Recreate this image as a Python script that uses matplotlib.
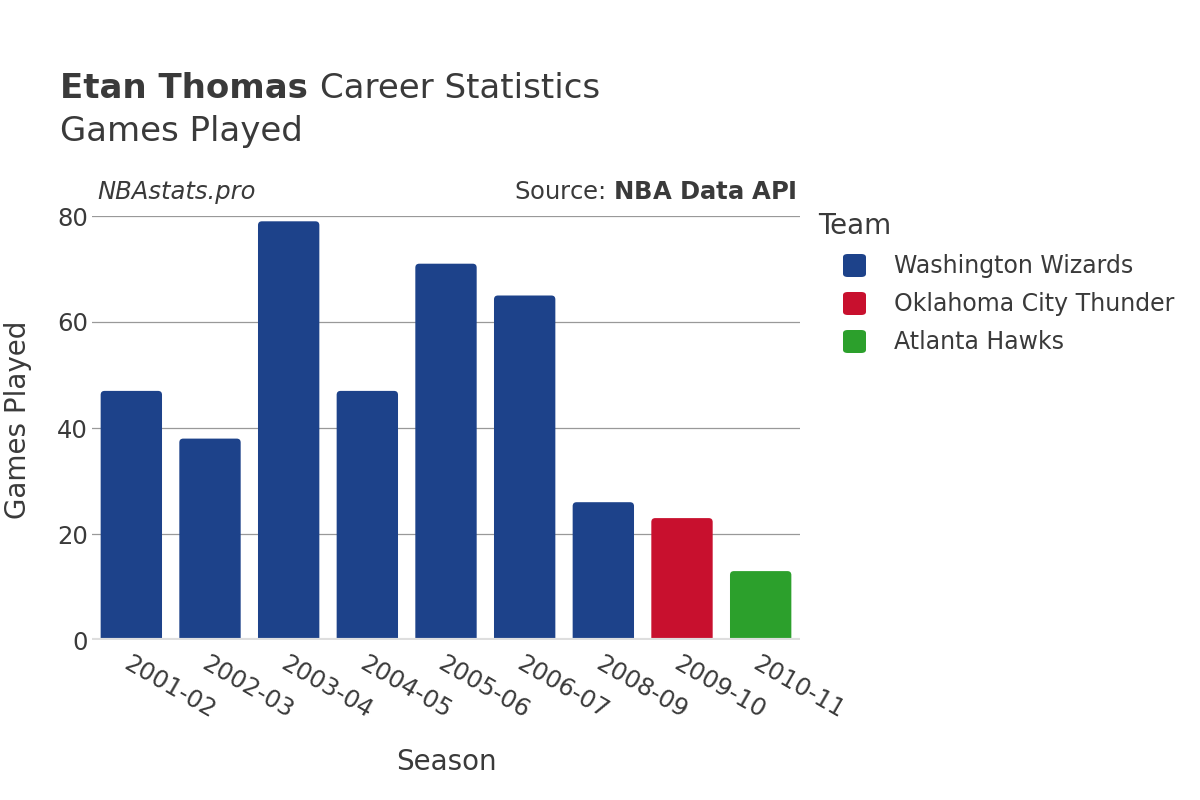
import matplotlib.pyplot as plt
from matplotlib.patches import FancyBboxPatch

seasons = ['2001-02', '2002-03', '2003-04', '2004-05', '2005-06', '2006-07', '2008-09', '2009-10', '2010-11']
games = [47, 38, 79, 47, 71, 65, 26, 23, 13]
teams = ['Washington Wizards', 'Washington Wizards', 'Washington Wizards', 'Washington Wizards',
         'Washington Wizards', 'Washington Wizards', 'Washington Wizards',
         'Oklahoma City Thunder', 'Atlanta Hawks']
team_order = ['Washington Wizards', 'Oklahoma City Thunder', 'Atlanta Hawks']
team_colors = {'Washington Wizards': '#1d428a',
               'Oklahoma City Thunder': '#c8102e',
               'Atlanta Hawks': '#2ca02c'}

plt.rcParams['font.family'] = ['DejaVu Sans']
txt = '#3a3a3a'

fig = plt.figure(figsize=(12, 8), dpi=100)
ax = fig.add_axes([92/1200, 160/800, 708/1200, 424/800])

x = range(len(seasons))
bars = ax.bar(x, games, width=0.78, color=[team_colors[t] for t in teams], zorder=3)
ax.set_xlim(-0.5, len(seasons) - 0.5)
ax.set_ylim(0, 80)

# rounded tops
for b in bars:
    b.set_visible(False)
    p = FancyBboxPatch((b.get_x(), -2), b.get_width(), b.get_height() + 2,
                       boxstyle='round,pad=0,rounding_size=0.05',
                       mutation_aspect=(80/424)/(9/708),
                       fc=b.get_facecolor(), ec='none', zorder=3, clip_on=True)
    ax.add_patch(p)

ax.set_yticks([0, 20, 40, 60, 80])
ax.grid(axis='y', color='#999999', lw=0.9, zorder=0)
ax.axhline(0, color='#dedede', lw=3, zorder=4)
for s in ax.spines.values():
    s.set_visible(False)
ax.tick_params(length=0, labelsize=17.5, colors=txt, pad=3)
ax.set_xticks(list(x))
ax.set_xticklabels(seasons, rotation=-30, ha='left', rotation_mode='anchor')
ax.tick_params(axis='x', pad=8)
ax.set_xlabel('Season', fontsize=20, color=txt, labelpad=18)
fig.text(18/1200, 1 - 420/800, 'Games Played', fontsize=20, color=txt, rotation=90,
         va='center', ha='center')

# titles
t1 = fig.text(60/1200, 1 - 88/800, 'Etan Thomas', fontsize=24.5, fontweight='bold', color=txt, va='center')
fig.canvas.draw()
bb = t1.get_window_extent()
fig.text((bb.x1 + 12)/1200, 1 - 88/800, 'Career Statistics', fontsize=24.5, color=txt, va='center')
fig.text(60/1200, 1 - 132/800, 'Games Played', fontsize=24.5, color=txt, va='center')
fig.text(97/1200, 1 - 192/800, 'NBAstats.pro', fontsize=17.5, style='italic', color=txt, va='center')
fig.text(797/1200, 1 - 192/800, 'Source: $\\bf{NBA\\ Data\\ API}$', fontsize=17.5, color=txt, va='center', ha='right')

# legend
fig.text(818/1200, 1 - 226/800, 'Team', fontsize=20, color=txt, va='center')
for i, t in enumerate(team_order):
    yc = 266 + i * 38
    fig.patches.append(FancyBboxPatch((843/1200, 1 - (yc + 11)/800), 23/1200, 23/800,
                                      boxstyle='round,pad=0,rounding_size=0.004',
                                      transform=fig.transFigure, fc=team_colors[t], ec='none'))
    fig.text(894/1200, 1 - yc/800, t, fontsize=17, color=txt, va='center')

fig.savefig('out.png', dpi=100)
